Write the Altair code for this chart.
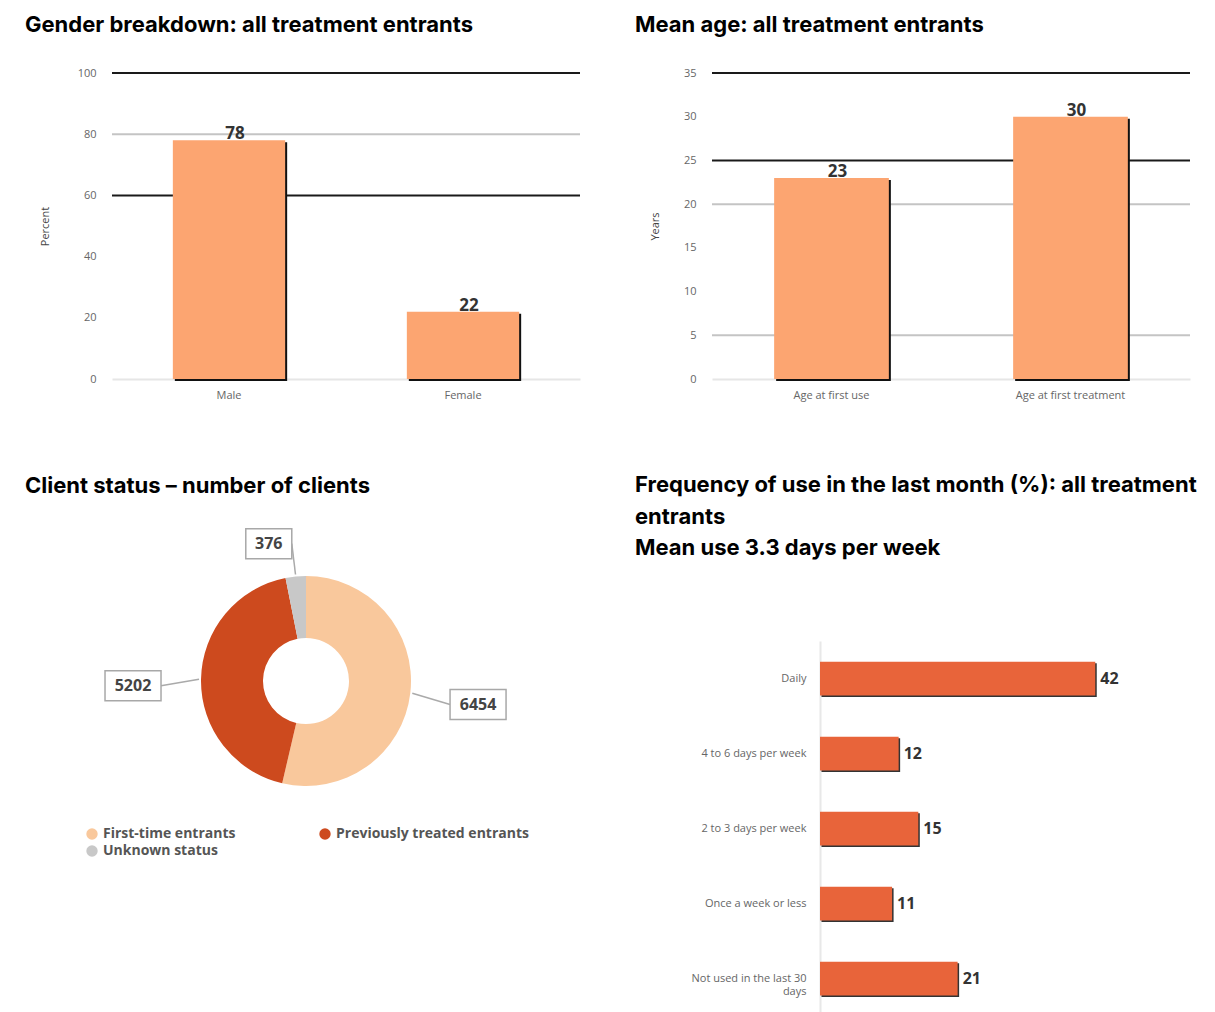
import altair as alt
import pandas as pd

# ---------------- data ----------------
gender_cats = ["Male", "Female"]
gender_vals = [78, 22]
gender_ticks = [0, 20, 40, 60, 80, 100]
gender_grid_light = [80]
gender_grid_dark = [100, 60]

age_cats = ["Age at first use", "Age at first treatment"]
age_vals = [23, 30]
age_ticks = [0, 5, 10, 15, 20, 25, 30, 35]
age_grid_light = [20, 5]
age_grid_dark = [35, 25]

status_cats = ["First-time entrants", "Previously treated entrants", "Unknown status"]
status_vals = [6454, 5202, 376]
status_colors = ["#F9C89C", "#CD4A1E", "#C8C8C8"]

freq_cats = ["Daily", "4 to 6 days per week", "2 to 3 days per week",
             "Once a week or less", "Not used in the last 30 days"]
freq_vals = [42, 12, 15, 11, 21]

BAR_LIGHT = "#FCA571"
BAR_DARK = "#E8643A"
LABEL_FONT = "Open Sans"
TITLE_FONT = "Inter"


def title(text, dx, offset):
    return alt.TitleParams(text=text, anchor="start", frame="group", dx=dx, offset=offset,
                           font=TITLE_FONT, fontSize=22, fontWeight="bold", color="#000",
                           lineHeight=31.5)


def vbar_panel(cats, vals, ticks, dom, light, dark, ytitle, ttl, width, tdx, tpad):
    df = pd.DataFrame({"cat": cats, "val": vals})
    x = alt.X("cat:N", sort=cats, title=None,
              scale=alt.Scale(paddingInner=0.52, paddingOuter=0.26),
              axis=alt.Axis(labelAngle=0, ticks=False, domain=True, domainColor="#e6e6e6",
                            domainWidth=2, labelPadding=10, labelFontSize=11,
                            labelColor="#666", labelFont=LABEL_FONT))
    y = alt.Y("val:Q", scale=alt.Scale(domain=dom), title=ytitle,
              axis=alt.Axis(values=ticks, grid=False, ticks=False, domain=False,
                            labelPadding=16, labelFontSize=11, labelColor="#666",
                            labelFont=LABEL_FONT, titleFont=LABEL_FONT, titleFontSize=11,
                            titleFontWeight="normal", titleColor="#444", titlePadding=tpad))
    r_light = alt.Chart(pd.DataFrame({"val": light})).mark_rule(
        color="#c4c4c4", strokeWidth=2).encode(y=y)
    r_dark = alt.Chart(pd.DataFrame({"val": dark})).mark_rule(
        color="#1a1a1a", strokeWidth=2).encode(y=y)
    shadow = alt.Chart(df).mark_bar(color="#111", xOffset=2, yOffset=2).encode(x=x, y=y)
    bars = alt.Chart(df).mark_bar(color=BAR_LIGHT).encode(x=x, y=y)
    text = alt.Chart(df).mark_text(baseline="bottom", dy=3, dx=6, fontSize=17,
                                   fontWeight="bold", font=LABEL_FONT, color="#333").encode(
        x=x, y=y, text="val:Q")
    return alt.layer(r_light, r_dark, shadow, bars, text).properties(
        width=width, height=306, title=title(ttl, tdx, 30))


p1 = vbar_panel(gender_cats, gender_vals, gender_ticks, [0, 100], gender_grid_light,
                gender_grid_dark, "Percent", "Gender breakdown: all treatment entrants",
                468, -87, 27)
p2 = vbar_panel(age_cats, age_vals, age_ticks, [0, 35], age_grid_light, age_grid_dark,
                "Years", "Mean age: all treatment entrants", 478, -77, 23)

# ---------------- donut ----------------
s_df = pd.DataFrame({"cat": status_cats, "val": status_vals, "idx": list(range(len(status_cats)))})
arc = alt.Chart(s_df).mark_arc(outerRadius=105, innerRadius=43).encode(
    theta=alt.Theta("val:Q", stack=True),
    color=alt.Color("cat:N", sort=status_cats,
                    scale=alt.Scale(domain=status_cats, range=status_colors),
                    legend=alt.Legend(title=None, orient="none", legendX=-27, legendY=754,
                                      direction="horizontal", columns=2, symbolType="circle",
                                      symbolSize=130, labelFont=LABEL_FONT,
                                      labelFontWeight="bold", labelFontSize=14,
                                      labelColor="#555", columnPadding=82, rowPadding=3,
                                      labelLimit=400, symbolStrokeWidth=0)),
    order=alt.Order("idx:Q"))

lab_base = alt.Chart(s_df).transform_window(
    cum="sum(val)", sort=[alt.SortField("idx")], frame=[None, 0]
).transform_joinaggregate(tot="sum(val)").transform_calculate(
    ang="(datum.cum - datum.val/2) / datum.tot * 2 * PI",
    ax="145 * sin(datum.ang)", ay="145 * cos(datum.ang) - 7",
    r0x="107 * sin(datum.ang)", r0y="107 * cos(datum.ang)",
    half="5 * length(toString(datum.val)) + 8",
    cx="datum.ax < 0 ? datum.ax - datum.half : datum.ax + datum.half",
    bx1="datum.cx - datum.half", bx2="datum.cx + datum.half",
    by1="datum.ay - 15", by2="datum.ay + 15")

xs = alt.Scale(domain=[-194, 194])
ys = alt.Scale(domain=[-40, 40])
leader = lab_base.mark_rule(color="#aaa", strokeWidth=1.5).encode(
    x=alt.X("r0x:Q", scale=xs, axis=None), x2="ax:Q",
    y=alt.Y("r0y:Q", scale=ys, axis=None), y2="ay:Q")
box = lab_base.mark_rect(fill="white", stroke="#a8a8a8", strokeWidth=1.5).encode(
    x=alt.X("bx1:Q", scale=xs, axis=None), x2="bx2:Q",
    y=alt.Y("by1:Q", scale=ys, axis=None), y2="by2:Q")
btxt = lab_base.mark_text(fontSize=16, fontWeight="bold", font=LABEL_FONT, color="#444").encode(
    x=alt.X("cx:Q", scale=xs, axis=None), y=alt.Y("ay:Q", scale=ys, axis=None), text="val:Q")

p3 = alt.layer(arc, leader, box, btxt).properties(
    width=388, height=80, title=title("Client status \u2013 number of clients", -87, 30))

# ---------------- frequency ----------------
f_df = pd.DataFrame({"cat": freq_cats, "val": freq_vals})
yf = alt.Y("cat:N", sort=freq_cats, title=None,
           scale=alt.Scale(paddingInner=0.55, paddingOuter=0.275),
           axis=alt.Axis(ticks=False, domainColor="#e8e8e8", domainWidth=2, labelPadding=14,
                         labelFontSize=11, labelColor="#666", labelFont=LABEL_FONT,
                         labelLineHeight=13,
                         labelExpr="length(datum.label) > 24 ? [slice(datum.label, 0, lastindexof(datum.label, ' ')), slice(datum.label, lastindexof(datum.label, ' ') + 1)] : datum.label"))
xf = alt.X("val:Q", scale=alt.Scale(domain=[0, 56]), axis=None)
f_shadow = alt.Chart(f_df).mark_bar(color="#333", xOffset=1.5, yOffset=1.5).encode(x=xf, y=yf)
f_bars = alt.Chart(f_df).mark_bar(color=BAR_DARK).encode(x=xf, y=yf)
f_text = alt.Chart(f_df).mark_text(align="left", dx=5, fontSize=16, fontWeight="bold",
                                   font=LABEL_FONT, color="#333").encode(x=xf, y=yf, text="val:Q")
p4 = alt.layer(f_shadow, f_bars, f_text).properties(
    width=367, height=375,
    title=title(["Frequency of use in the last month (%): all treatment", "entrants",
                 "Mean use 3.3 days per week"], -185, 81))

row1 = alt.hconcat(p1, p2, spacing=132, bounds="flush")
row2 = alt.hconcat(p3, p4, spacing=320, bounds="flush")
chart = alt.vconcat(row1, row2, spacing=568, bounds="flush").properties(
    padding={"left": 17, "top": 6, "right": 5, "bottom": 5}
).configure_view(stroke=None)

chart.save("out.html", embed_options={"renderer": "svg", "actions": False})
